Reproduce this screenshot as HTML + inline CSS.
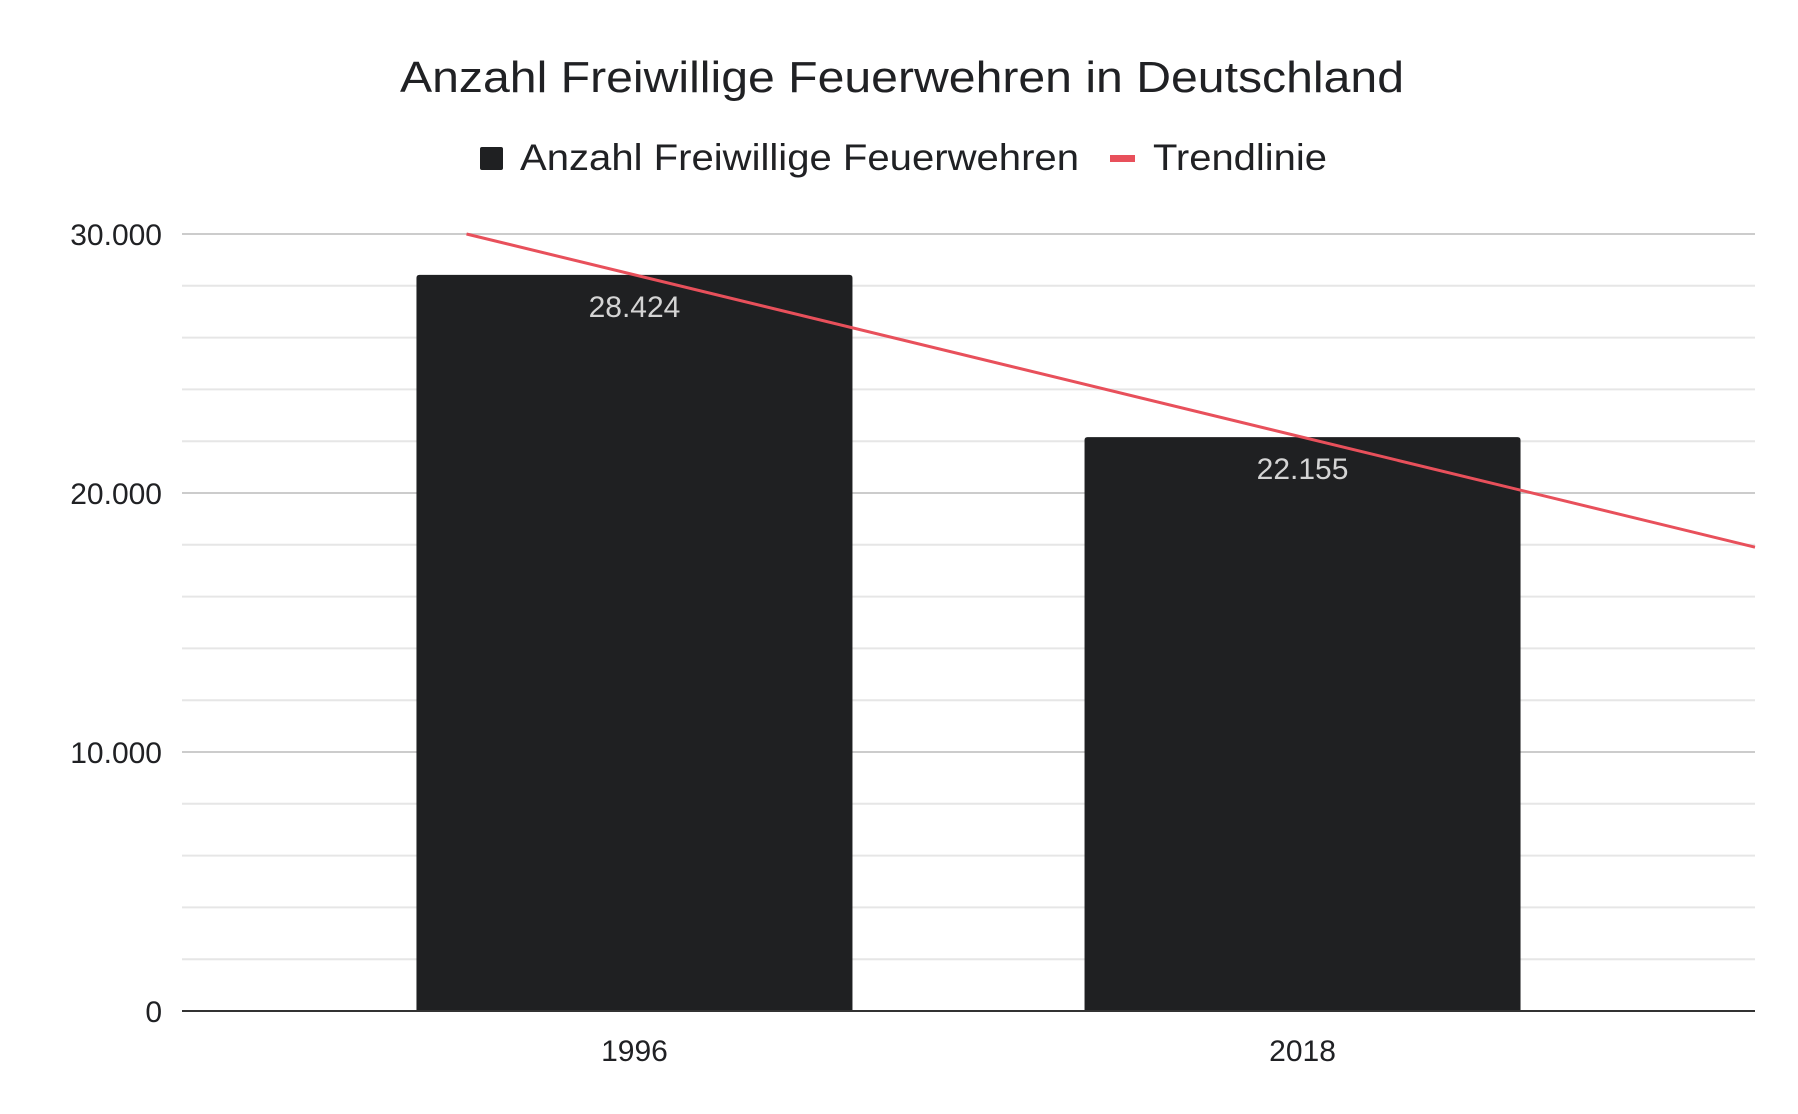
<!DOCTYPE html>
<html><head><meta charset="utf-8"><style>
html,body{margin:0;padding:0;background:#fff;}
svg{display:block;font-family:"Liberation Sans",Arial,sans-serif;}
</style></head><body>
<svg id="chart" width="1798" height="1114" viewBox="0 0 1798 1114" xmlns="http://www.w3.org/2000/svg">
<text x="400" y="92" font-size="44" fill="#202124" textLength="1004" lengthAdjust="spacingAndGlyphs">Anzahl Freiwillige Feuerwehren in Deutschland</text>
<g>
<rect x="480" y="147" width="23" height="23" rx="2" fill="#1f2022"/>
<text x="520" y="170" font-size="37" fill="#202124" textLength="559" lengthAdjust="spacingAndGlyphs">Anzahl Freiwillige Feuerwehren</text>
<rect x="1110" y="155" width="25" height="7" fill="#e8505b"/>
<text x="1153" y="170" font-size="37" fill="#202124" textLength="174" lengthAdjust="spacingAndGlyphs">Trendlinie</text>
</g>
<g id="grid"></g><g id="bars"></g><g id="trend"></g><g id="labels"></g>
</svg>
<script>
const categories = [1996, 2018];
const values = [28424, 22155];
const valueLabels = ["28.424", "22.155"];
const yTicks = [0, 10000, 20000, 30000];
const yTickLabels = ["0", "10.000", "20.000", "30.000"];

const NS = "http://www.w3.org/2000/svg";
const L = 182, R = 1755, T = 234, B = 1011;
const yMax = 30000, xMin = 1981.1, xMax = 2032.9;
const barW = 436;
function y(v){ return B - v / yMax * (B - T); }
function x(v){ return L + (v - xMin) / (xMax - xMin) * (R - L); }
function mk(tag, attrs, parent){ const e = document.createElementNS(NS, tag); for (const k in attrs) e.setAttribute(k, attrs[k]); parent.appendChild(e); return e; }

const grid = document.getElementById('grid');
for (let i = 1; i < yTicks.length * 5 - 4; i++) {
  const v = i * yMax / 15;
  const major = i % 5 === 0;
  const ln = mk('line', {x1: L, x2: R, y1: y(v), y2: y(v), stroke: major ? '#cccccc' : '#e6e6e6', 'stroke-width': 2}, grid);
  
  
}
yTicks.forEach((t, i) => {
  const tx = mk('text', {x: 162, y: y(t) + 11, 'font-size': 30, fill: '#202124', 'text-anchor': 'end'}, grid);
  tx.textContent = yTickLabels[i];
  
  
});

const bars = document.getElementById('bars');
const labels = document.getElementById('labels');
categories.forEach((c, i) => {
  const cx = x(c);
  const r = mk('path', {d: `M${cx-barW/2},${B} V${y(values[i])+3} q0,-3 3,-3 H${cx+barW/2-3} q3,0 3,3 V${B} Z`, fill: '#1f2022'}, bars);
  
  
  const vl = mk('text', {x: cx, y: y(values[i]) + 42, 'font-size': 30, fill: '#d4d4d4', 'text-anchor': 'middle'}, labels);
  vl.textContent = valueLabels[i];
  
  
  const xl = mk('text', {x: cx, y: B + 50, 'font-size': 30, fill: '#202124', 'text-anchor': 'middle'}, labels);
  xl.textContent = String(c);
  
  
});
const axis = mk('line', {x1: L, x2: R, y1: B, y2: B, stroke: '#333', 'stroke-width': 2}, labels);



// linear regression trend
const n = categories.length;
const mx = categories.reduce((a,b)=>a+b,0)/n, my = values.reduce((a,b)=>a+b,0)/n;
let sxy = 0, sxx = 0;
for (let i = 0; i < n; i++){ sxy += (categories[i]-mx)*(values[i]-my); sxx += (categories[i]-mx)**2; }
const slope = sxx ? sxy/sxx : 0, icpt = my - slope*mx;
const f = v => icpt + slope*v;
let x0 = xMin;
if (f(xMin) > yMax && slope !== 0) x0 = (yMax - icpt)/slope;
const tr = mk('line', {x1: x(x0), y1: y(f(x0)), x2: x(xMax), y2: y(f(xMax)), stroke: '#e8505b', 'stroke-width': 3}, document.getElementById('trend'));


</script>
</body></html>
